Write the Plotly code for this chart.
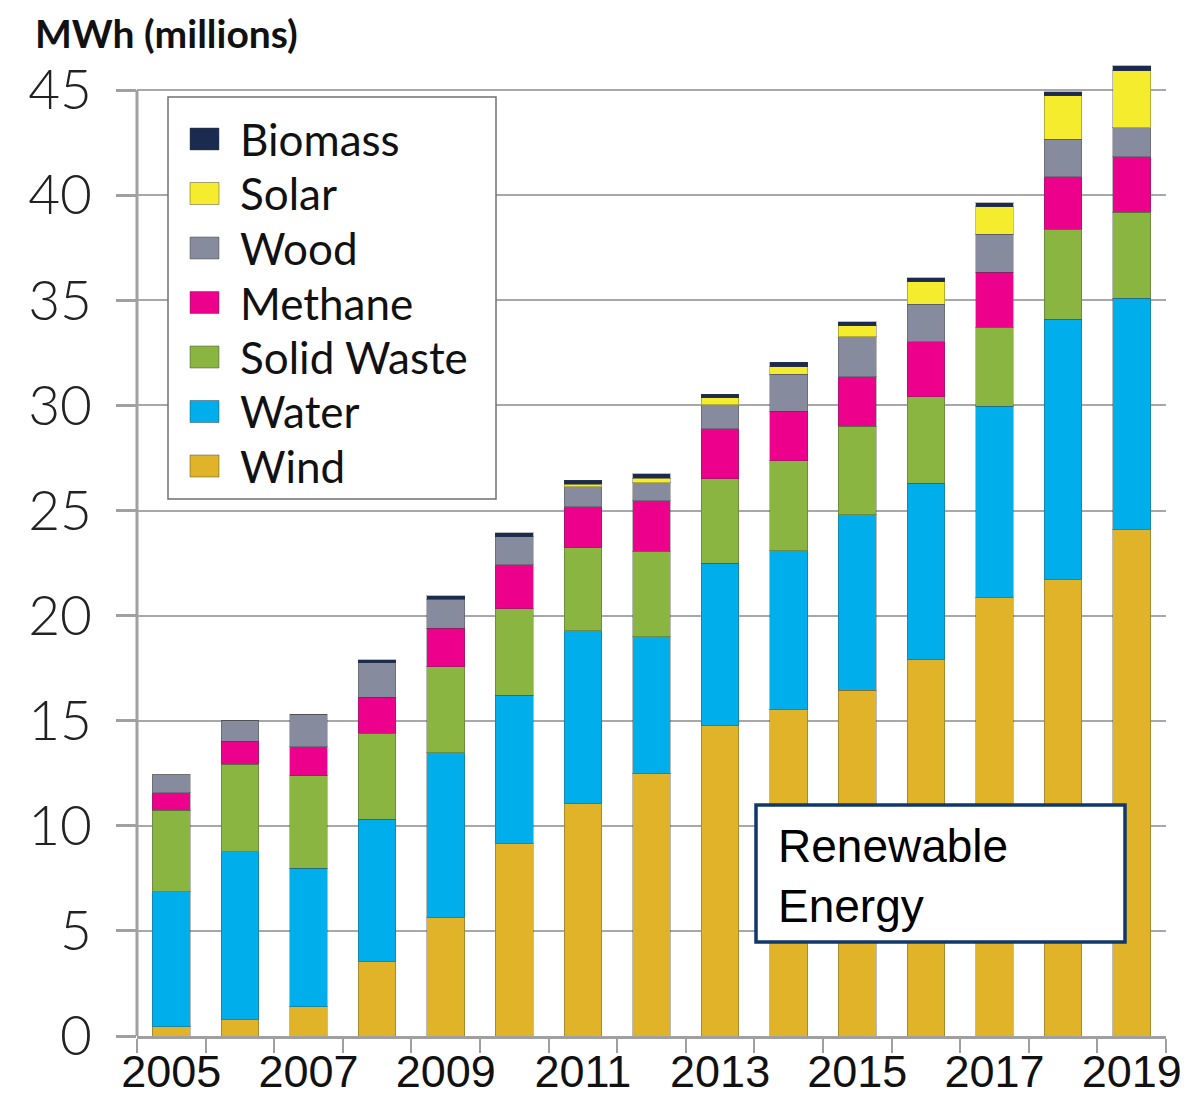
import plotly.graph_objects as go

years = list(range(2005, 2020))
tick_years = [2005, 2007, 2009, 2011, 2013, 2015, 2017, 2019]

wind = [0.44, 0.79, 1.40, 3.54, 5.63, 9.17, 11.04, 12.51, 14.75, 15.54, 16.46, 17.89, 20.88, 21.74, 24.11]
water = [6.43, 7.98, 6.58, 6.77, 7.85, 7.05, 8.23, 6.49, 7.74, 7.55, 8.33, 8.40, 9.09, 12.36, 10.99]
solid_waste = [3.88, 4.16, 4.39, 4.09, 4.09, 4.11, 3.96, 4.05, 4.02, 4.28, 4.23, 4.12, 3.75, 4.28, 4.09]
methane = [0.83, 1.09, 1.39, 1.71, 1.83, 2.08, 1.95, 2.41, 2.38, 2.36, 2.35, 2.62, 2.61, 2.50, 2.64]
wood = [0.84, 1.01, 1.54, 1.65, 1.38, 1.33, 0.95, 0.87, 1.13, 1.76, 1.90, 1.78, 1.81, 1.79, 1.38]
solar = [0, 0, 0, 0, 0, 0, 0.13, 0.21, 0.35, 0.34, 0.52, 1.08, 1.31, 2.05, 2.71]
biomass = [0, 0, 0, 0.13, 0.17, 0.19, 0.19, 0.21, 0.17, 0.23, 0.19, 0.19, 0.19, 0.21, 0.23]

series = [
    ('Wind', wind, '#E0B328'),
    ('Water', water, '#00AEEB'),
    ('Solid Waste', solid_waste, '#8AB541'),
    ('Methane', methane, '#EC008C'),
    ('Wood', wood, '#868B9D'),
    ('Solar', solar, '#F5EC2E'),
    ('Biomass', biomass, '#1B2B50'),
]

# plot area in page pixels (page has an 8px body margin)
OFF = 8
L, R, T, B = 137, 1166, 61, 1036
W, H = 1196 - OFF, 1100 - OFF


def px(x):
    return (x - L) / (R - L)


def py(y):
    return (B - y) / (B - T)


fig = go.Figure()
for name, vals, color in series:
    fig.add_trace(go.Bar(x=years, y=vals, name=name, marker_color=color,
                         marker_line=dict(color='rgba(60,60,60,0.35)', width=1),
                         showlegend=False))

grid = '#a8a8a8'
fig.update_layout(
    width=W, height=H,
    margin=dict(l=L - OFF, r=W - (R - OFF), t=T - OFF, b=H - (B - OFF)),
    barmode='stack', bargap=0.45,
    plot_bgcolor='white', paper_bgcolor='white',
    xaxis=dict(range=[2004.5, 2019.5], tickvals=tick_years, ticks='', ticklen=0,
               showgrid=False, zeroline=False, automargin=False,
               showline=True, linecolor='#a0a0a0', linewidth=3,
               tickfont=dict(family='Liberation Sans', size=45, color='#111'),
               ticklabelstandoff=-6,
               minor=dict(tickvals=[y + 0.5 for y in range(2004, 2020)], ticks='outside',
                          ticklen=14, tickwidth=1.5, tickcolor='#a0a0a0', showgrid=False)),
    yaxis=dict(range=[0, (B - T) / 21.02], tickvals=list(range(0, 50, 5)),
               ticks='outside', ticklen=20, tickwidth=3, tickcolor='#a0a0a0',
               showgrid=True, gridcolor=grid, gridwidth=1.5, zeroline=False,
               showline=False, automargin=False,
               tickfont=dict(family='Lato', size=55, color='#222', weight=300),
               ticklabelstandoff=13),
    font=dict(family='Lato'),
)

shapes = []
annotations = []

# y axis line, stopping at 45
shapes.append(dict(type='line', xref='paper', yref='y', x0=0, x1=0, y0=-0.4, y1=45,
                   line=dict(color='#a0a0a0', width=3)))

# title
annotations.append(dict(text='MWh (millions)', xref='paper', yref='paper',
                        x=px(33), y=py(8), xanchor='left', yanchor='top', showarrow=False,
                        font=dict(family='Lato', size=39, color='#111', weight=700)))

# legend box
shapes.append(dict(type='rect', xref='paper', yref='paper', x0=px(168), x1=px(496), y0=py(499), y1=py(97),
                   fillcolor='white', line=dict(color='#707070', width=1.5), layer='above'))
row0, step = 139, 54.5
for i, (name, vals, color) in enumerate(reversed(series)):
    yc = row0 + i * step
    shapes.append(dict(type='rect', xref='paper', yref='paper', x0=px(190), x1=px(219),
                       y0=py(yc + 11), y1=py(yc - 11), fillcolor=color,
                       line=dict(color='rgba(60,60,60,0.45)', width=1), layer='above'))
    annotations.append(dict(text=name, xref='paper', yref='paper', x=px(238), y=py(yc),
                            xanchor='left', yanchor='middle', showarrow=False,
                            font=dict(family='Lato', size=44, color='#111')))

# text box
shapes.append(dict(type='rect', xref='paper', yref='paper', x0=px(756), x1=px(1125), y0=py(942), y1=py(805),
                   fillcolor='white', line=dict(color='#10386B', width=3.5), layer='above'))
annotations.append(dict(text='Renewable<br>Energy', xref='paper', yref='paper', x=px(776), y=py(876),
                        xanchor='left', yanchor='middle', align='left', showarrow=False,
                        font=dict(family='Liberation Sans, Arial', size=46, color='black')))

fig.update_layout(shapes=shapes, annotations=annotations)
fig.write_html("out.html")
